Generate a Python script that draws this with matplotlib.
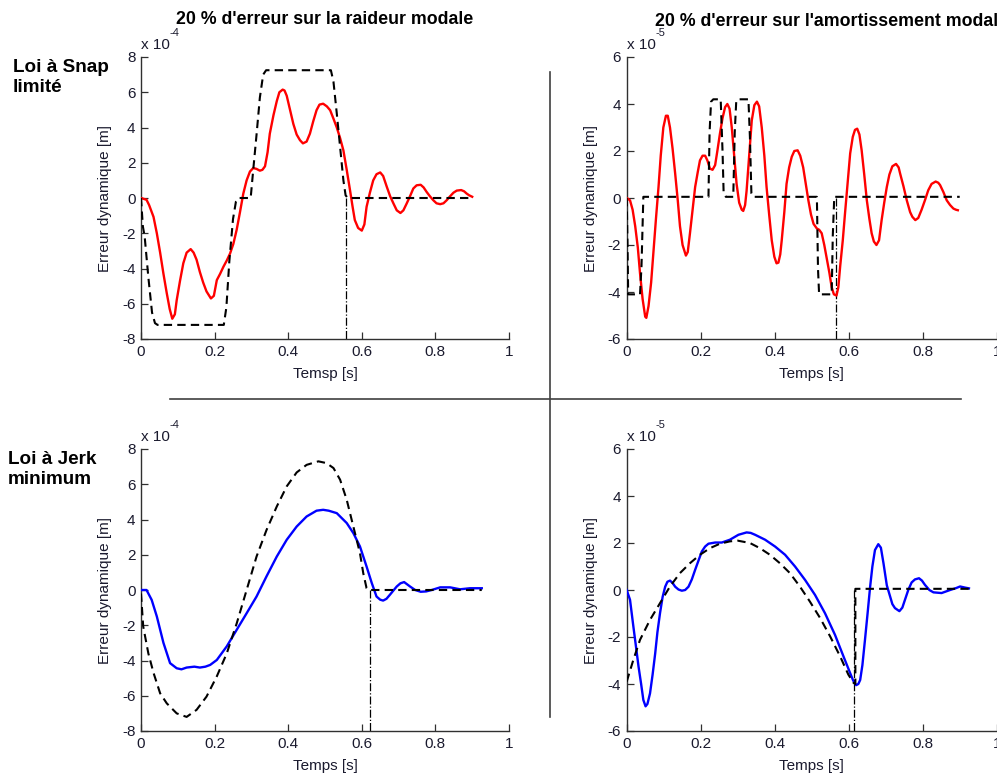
import matplotlib
matplotlib.use("Agg")
import matplotlib.pyplot as plt

plt.rcParams['font.family'] = ['Liberation Sans', 'DejaVu Sans']
plt.rcParams['axes.unicode_minus'] = False

# ---------------- data (values in units of the axis multiplier) ----------------
# Top-left: snap-limited law, 20% stiffness error (x 1e-4 m)
tl_ref_t = [0, 0.005, 0.01, 0.02, 0.03, 0.038, 0.045, 0.225, 0.232, 0.24, 0.25, 0.258, 0.265,
            0.298, 0.305, 0.314, 0.323, 0.332, 0.34, 0.516, 0.523, 0.532, 0.541, 0.55, 0.556, 0.562, 0.9]
tl_ref_v = [0, -1.6, -2.2, -4.5, -6.5, -7.1, -7.2, -7.2, -6.2, -3.6, -1.2, -0.2, 0,
            0, 1.6, 3.6, 5.7, 7.0, 7.25, 7.25, 6.6, 4.8, 2.9, 1.0, 0.15, 0, 0]
tl_err_t = [0, 0.015, 0.022, 0.034, 0.043, 0.052, 0.061, 0.07, 0.078, 0.085, 0.092, 0.097, 0.106, 0.115,
            0.124, 0.135, 0.143, 0.151, 0.16, 0.169, 0.178, 0.19, 0.198, 0.206, 0.215, 0.224, 0.233, 0.242,
            0.251, 0.26, 0.269, 0.278, 0.287, 0.296, 0.305, 0.314, 0.323, 0.33, 0.337, 0.344, 0.35, 0.36,
            0.369, 0.376, 0.385, 0.39, 0.396, 0.405, 0.414, 0.423, 0.432, 0.44, 0.45, 0.459, 0.468, 0.477,
            0.485, 0.495, 0.505, 0.514, 0.523, 0.532, 0.541, 0.55, 0.559, 0.568, 0.575, 0.581, 0.59, 0.6,
            0.607, 0.613, 0.622, 0.631, 0.64, 0.65, 0.658, 0.668, 0.677, 0.686, 0.695, 0.705, 0.713, 0.722,
            0.731, 0.74, 0.749, 0.76, 0.768, 0.776, 0.785, 0.794, 0.803, 0.813, 0.822, 0.831, 0.84, 0.849,
            0.858, 0.87, 0.878, 0.885, 0.892, 0.9]
tl_err_v = [0, -0.1, -0.4, -1.07, -2.0, -3.1, -4.3, -5.4, -6.3, -6.85, -6.6, -5.8, -4.7, -3.7,
            -3.1, -2.9, -3.1, -3.5, -4.2, -4.8, -5.3, -5.7, -5.55, -4.66, -4.3, -3.9, -3.55, -3.15,
            -2.6, -1.8, -0.8, 0.25, 1.0, 1.5, 1.7, 1.65, 1.55, 1.6, 1.8, 2.6, 3.65, 4.7,
            5.5, 6.0, 6.15, 6.1, 5.8, 5.0, 4.2, 3.6, 3.28, 3.1, 3.2, 3.65, 4.35, 4.98,
            5.3, 5.35, 5.2, 4.98, 4.5, 4.0, 3.4, 2.7, 1.6, 0.44, -0.5, -1.25, -1.7, -1.85,
            -1.5, -0.5, 0.3, 1.0, 1.35, 1.45, 1.25, 0.63, 0.1, -0.31, -0.7, -0.85, -0.7, -0.31,
            0.1, 0.54, 0.72, 0.75, 0.6, 0.35, 0.1, -0.12, -0.3, -0.35, -0.3, -0.12, 0.1, 0.3,
            0.42, 0.45, 0.38, 0.25, 0.15, 0.07]

# Top-right: snap-limited law, 20% damping error (x 1e-5 m)
tr_ref_t = [0, 0.002, 0.004, 0.036, 0.04, 0.045, 0.221, 0.224, 0.228, 0.234, 0.254, 0.259, 0.262,
            0.268, 0.288, 0.292, 0.296, 0.30, 0.329, 0.333, 0.337, 0.342, 0.514, 0.517, 0.52, 0.554,
            0.557, 0.561, 0.9]
tr_ref_v = [0, -1.8, -4.1, -4.1, -2.9, 0.05, 0.05, 2.8, 4.1, 4.2, 4.2, 2.0, 0.2,
            0.05, 0.05, 2.8, 4.1, 4.2, 4.2, 2.6, 0.2, 0.05, 0.05, -3.0, -4.1, -4.1,
            -1.6, 0.05, 0.05]
tr_err_t = [0, 0.009, 0.016, 0.023, 0.03, 0.036, 0.043, 0.05, 0.053, 0.059, 0.066, 0.072, 0.079, 0.086,
            0.092, 0.099, 0.106, 0.111, 0.117, 0.124, 0.131, 0.138, 0.144, 0.151, 0.16, 0.165, 0.171,
            0.178, 0.185, 0.192, 0.198, 0.205, 0.212, 0.218, 0.225, 0.232, 0.239, 0.245, 0.252, 0.259,
            0.266, 0.272, 0.278, 0.284, 0.29, 0.297, 0.304, 0.311, 0.315, 0.32, 0.324, 0.331, 0.338,
            0.345, 0.352, 0.358, 0.365, 0.372, 0.378, 0.385, 0.392, 0.399, 0.405, 0.41, 0.415, 0.419,
            0.426, 0.432, 0.439, 0.446, 0.453, 0.462, 0.469, 0.477, 0.484, 0.491, 0.498, 0.505, 0.514,
            0.52, 0.527, 0.534, 0.541, 0.548, 0.554, 0.56, 0.567, 0.572, 0.577, 0.584, 0.59, 0.597,
            0.604, 0.611, 0.617, 0.623, 0.629, 0.635, 0.642, 0.649, 0.656, 0.662, 0.668, 0.675, 0.682,
            0.689, 0.696, 0.703, 0.71, 0.718, 0.728, 0.735, 0.739, 0.748, 0.757, 0.766, 0.772, 0.78,
            0.788, 0.797, 0.806, 0.815, 0.824, 0.835, 0.842, 0.847, 0.856, 0.865, 0.874, 0.883, 0.89,
            0.895]
tr_err_v = [0, -0.1, -0.5, -1.2, -2.1, -3.2, -4.3, -5.05, -5.1, -4.6, -3.6, -2.36, -0.9, 0.47,
            1.8, 3.0, 3.5, 3.5, 3.0, 2.1, 1.04, -0.1, -1.2, -2.0, -2.45, -2.3, -1.5,
            -0.5, 0.47, 1.1, 1.6, 1.8, 1.8, 1.6, 1.25, 1.2, 1.4, 2.0, 2.74, 3.4,
            3.87, 4.0, 3.8, 3.0, 1.9, 0.6, -0.2, -0.5, -0.55, -0.3, 0.3, 1.8, 3.3,
            3.95, 4.1, 3.9, 3.0, 1.8, 0.47, -0.7, -1.8, -2.5, -2.78, -2.75, -2.4, -1.8,
            -0.6, 0.6, 1.3, 1.75, 2.0, 2.03, 1.8, 1.3, 0.6, -0.1, -0.7, -1.1, -1.3,
            -1.35, -1.5, -2.0, -2.6, -3.2, -3.8, -4.1, -4.15, -3.8, -2.9, -1.8, -0.66, 0.6,
            1.9, 2.6, 2.9, 2.95, 2.7, 2.03, 1.0, -0.1, -0.9, -1.5, -1.85, -2.0, -1.8,
            -0.94, -0.2, 0.47, 1.0, 1.35, 1.45, 1.3, 1.04, 0.5, -0.1, -0.6, -0.8, -0.94,
            -0.85, -0.5, -0.1, 0.33, 0.6, 0.7, 0.65, 0.55, 0.25, -0.1, -0.3, -0.45, -0.5,
            -0.52]

# Bottom-left: minimum-jerk law, 20% stiffness error (x 1e-4 m)
bl_ref_t = [0, 0.006, 0.02, 0.034, 0.052, 0.07, 0.097, 0.124, 0.151, 0.178, 0.206, 0.233, 0.26,
            0.287, 0.314, 0.341, 0.369, 0.396, 0.423, 0.45, 0.482, 0.504, 0.523, 0.541, 0.559,
            0.577, 0.595, 0.604, 0.613, 0.618, 0.926]
bl_ref_v = [-0.2, -2.07, -3.6, -4.7, -5.86, -6.43, -7.0, -7.2, -6.8, -6.05, -4.9, -3.6, -1.9,
            0.0, 1.9, 3.4, 4.74, 5.88, 6.67, 7.1, 7.3, 7.2, 6.92, 6.26, 5.12,
            3.6, 2.09, 0.95, 0.1, 0, 0]
bl_err_t = [0, 0.015, 0.029, 0.043, 0.061, 0.079, 0.097, 0.11, 0.124, 0.145, 0.16, 0.175, 0.188,
            0.206, 0.233, 0.26, 0.287, 0.314, 0.341, 0.369, 0.396, 0.423, 0.45, 0.477, 0.495, 0.51,
            0.532, 0.559, 0.577, 0.595, 0.613, 0.627, 0.64, 0.65, 0.658, 0.667, 0.676, 0.695, 0.705,
            0.715, 0.731, 0.745, 0.76, 0.775, 0.79, 0.813, 0.84, 0.867, 0.894, 0.926]
bl_err_v = [0, 0, -0.56, -1.5, -3.0, -4.15, -4.44, -4.5, -4.4, -4.35, -4.4, -4.35, -4.25,
            -3.97, -3.2, -2.26, -1.32, -0.37, 0.77, 1.9, 2.85, 3.6, 4.17, 4.5, 4.55, 4.5,
            4.36, 3.8, 3.23, 2.47, 1.33, 0.4, -0.37, -0.55, -0.6, -0.5, -0.28, 0.2, 0.38,
            0.45, 0.2, 0.0, -0.1, -0.08, 0.0, 0.15, 0.15, 0.04, 0.1, 0.1]

# Bottom-right: minimum-jerk law, 20% damping error (x 1e-5 m)
br_ref_t = [0, 0.018, 0.036, 0.063, 0.09, 0.117, 0.144, 0.171, 0.198, 0.225, 0.252, 0.279, 0.3,
            0.333, 0.36, 0.387, 0.414, 0.441, 0.468, 0.495, 0.523, 0.55, 0.577, 0.599, 0.613, 0.618,
            0.618, 0.925]
br_ref_v = [-3.9, -2.97, -2.12, -1.27, -0.56, 0.15, 0.72, 1.14, 1.5, 1.78, 1.97, 2.07, 2.1,
            2.0, 1.78, 1.5, 1.14, 0.72, 0.15, -0.49, -1.2, -1.98, -2.83, -3.6, -3.95, -4.0,
            0.05, 0.05]
br_err_t = [0, 0.009, 0.018, 0.025, 0.032, 0.039, 0.045, 0.051, 0.056, 0.063, 0.07, 0.077, 0.083,
            0.09, 0.097, 0.104, 0.11, 0.117, 0.124, 0.131, 0.14, 0.149, 0.158, 0.167, 0.176, 0.185,
            0.194, 0.203, 0.212, 0.221, 0.239, 0.257, 0.279, 0.302, 0.324, 0.335, 0.347, 0.374, 0.401,
            0.428, 0.455, 0.482, 0.509, 0.536, 0.563, 0.586, 0.604, 0.612, 0.62, 0.626, 0.631, 0.637,
            0.644, 0.651, 0.658, 0.664, 0.671, 0.68, 0.687, 0.694, 0.703, 0.712, 0.718, 0.725, 0.737,
            0.745, 0.752, 0.761, 0.77, 0.779, 0.79, 0.798, 0.806, 0.818, 0.829, 0.851, 0.874, 0.89,
            0.901, 0.915, 0.925]
br_err_v = [0, -0.42, -1.55, -2.4, -3.26, -4.0, -4.68, -4.95, -4.85, -4.4, -3.6, -2.7, -1.8,
            -0.99, -0.3, 0.14, 0.35, 0.4, 0.3, 0.14, 0.02, -0.03, 0.0, 0.14, 0.45, 0.86,
            1.25, 1.64, 1.85, 1.97, 2.02, 2.02, 2.14, 2.35, 2.45, 2.43, 2.35, 2.14, 1.85,
            1.5, 1.0, 0.43, -0.21, -0.99, -1.91, -2.83, -3.54, -3.85, -4.05, -4.0, -3.83, -3.2,
            -2.12, -1.0, 0.15, 1.0, 1.7, 1.95, 1.8, 1.14, 0.2, -0.28, -0.6, -0.77, -0.9,
            -0.75, -0.42, 0.0, 0.32, 0.45, 0.5, 0.4, 0.22, 0.0, -0.1, -0.13, 0.0, 0.08,
            0.15, 0.1, 0.07]

# end-of-motion markers (time)
tl_tend = 0.557
tr_tend = 0.567
bl_tend = 0.621
br_tend = 0.615

titles = ["20 % d'erreur sur la raideur modale", "20 % d'erreur sur l'amortissement modal"]
row_labels = ["Loi à Snap\nlimité", "Loi à Jerk\nminimum"]
xlabels = ["Temsp [s]", "Temps [s]", "Temps [s]", "Temps [s]"]
ylabel = "Erreur dynamique [m]"
exponents = ["-4", "-5", "-4", "-5"]
ylims = [8, 6, 8, 6]
xticks = [0, 0.2, 0.4, 0.6, 0.8, 1]
xticklabels = ['0', '0.2', '0.4', '0.6', '0.8', '1']

# ---------------- figure ----------------
W, H = 997, 776
fig = plt.figure(figsize=(W / 100, H / 100), dpi=100)

def rect(x0, y_top, x1, y_bot):
    return [x0 / W, 1 - y_bot / H, (x1 - x0) / W, (y_bot - y_top) / H]

axes_rects = [rect(141, 57, 509, 339), rect(626.7, 57, 996.7, 339),
              rect(141, 449, 509, 731), rect(626.7, 449, 996.7, 731)]

series = [
    (tl_ref_t, tl_ref_v, tl_err_t, tl_err_v, 'red', tl_tend),
    (tr_ref_t, tr_ref_v, tr_err_t, tr_err_v, 'red', tr_tend),
    (bl_ref_t, bl_ref_v, bl_err_t, bl_err_v, 'blue', bl_tend),
    (br_ref_t, br_ref_v, br_err_t, br_err_v, 'blue', br_tend),
]

txt_col = '#1a1a2e'
spine_col = '#303030'
fs = 11

for i, (r, s) in enumerate(zip(axes_rects, series)):
    ax = fig.add_axes(r)
    rt, rv, et, ev, col, tend = s
    lim = ylims[i]
    ax.plot(et, ev, color=col, lw=1.7, zorder=3)
    ax.plot(rt, rv, color='black', lw=1.5, ls=(0, (4, 2.5)), zorder=4)
    ax.plot([tend, tend], [0, -lim], color='black', lw=0.9, ls='-.', zorder=2)
    ax.set_xlim(0, 1)
    ax.set_ylim(-lim, lim)
    ax.set_xticks(xticks)
    ax.set_xticklabels(xticklabels)
    ax.set_yticks(range(-lim, lim + 1, 2))
    for sp in ['top', 'right']:
        ax.spines[sp].set_visible(False)
    for sp in ['left', 'bottom']:
        ax.spines[sp].set_color(spine_col)
        ax.spines[sp].set_linewidth(1.0)
    ax.tick_params(direction='in', length=5, width=0.9, colors=spine_col,
                   labelcolor=txt_col, labelsize=fs, pad=4)
    ax.set_xlabel(xlabels[i], fontsize=fs, color=txt_col, labelpad=6)
    ax.set_ylabel(ylabel, fontsize=fs, color=txt_col, labelpad=7)
    ax.set_facecolor('none')
    ax.text(0.0, 1.03, "x 10", transform=ax.transAxes,
            fontsize=fs, color=txt_col, ha='left', va='baseline')
    ax.text(0.078 if lim == 8 else 0.077, 1.075, exponents[i], transform=ax.transAxes,
            fontsize=8, color=txt_col, ha='left', va='baseline')

# titles
fig.text(325 / W, 1 - 19 / H, titles[0], fontsize=12.8, fontweight='bold', ha='center', va='center')
fig.text(655 / W, 1 - 22 / H, titles[1], fontsize=12.8, fontweight='bold', ha='left', va='center')

# row labels
fig.text(13 / W, 1 - 77.5 / H, row_labels[0], fontsize=13.6, fontweight='bold', ha='left',
         va='center', linespacing=1.22)
fig.text(8 / W, 1 - 469.5 / H, row_labels[1], fontsize=13.6, fontweight='bold', ha='left',
         va='center', linespacing=1.22)

# separator lines
fig.add_artist(plt.Line2D([170 / W, 961 / W], [1 - 399 / H, 1 - 399 / H],
                          color='#404040', lw=1.2, transform=fig.transFigure))
fig.add_artist(plt.Line2D([549.7 / W, 549.7 / W], [1 - 72 / H, 1 - 717 / H],
                          color='#404040', lw=1.2, transform=fig.transFigure))

fig.savefig('out.png', dpi=100)
